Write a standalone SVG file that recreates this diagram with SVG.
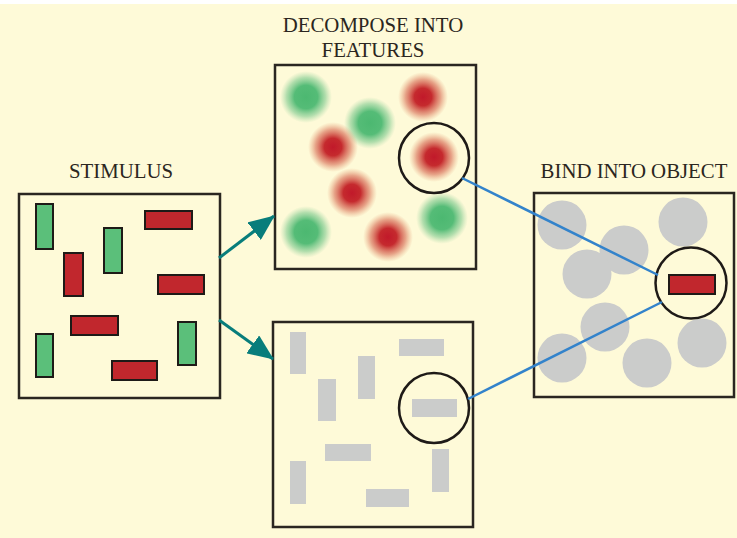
<svg xmlns="http://www.w3.org/2000/svg" width="737" height="538" viewBox="0 0 737 538">
<defs>
<style>
.bg{fill:#fefad8}
.box{fill:none;stroke:#2a2620;stroke-width:2.5}
.title{font-family:"Liberation Serif",serif;font-size:20.8px;fill:#2b2620;text-anchor:middle}
.g{fill:#5bbf7a;stroke:#1e1a17;stroke-width:2}
.r{fill:#c1272d;stroke:#1e1a17;stroke-width:2}
.gray{fill:#cbcccb}
.ring{fill:none;stroke:#1e1a17;stroke-width:2.5}
.blue{stroke:#3383cb;stroke-width:2.5;fill:none}
.teal{stroke:#087d7b;stroke-width:3;fill:none}
</style>
<radialGradient id="rg">
<stop offset="0" stop-color="#c1192a" stop-opacity="1"/>
<stop offset="0.35" stop-color="#c52a2e" stop-opacity="1"/>
<stop offset="0.7" stop-color="#d35a45" stop-opacity="0.55"/>
<stop offset="1" stop-color="#e08a60" stop-opacity="0"/>
</radialGradient>
<radialGradient id="gg">
<stop offset="0" stop-color="#4cb871" stop-opacity="1"/>
<stop offset="0.45" stop-color="#55bc77" stop-opacity="1"/>
<stop offset="0.75" stop-color="#74c78a" stop-opacity="0.55"/>
<stop offset="1" stop-color="#9ad3a0" stop-opacity="0"/>
</radialGradient>
<marker id="ah" viewBox="0 0 26 22" refX="25" refY="11" markerWidth="26" markerHeight="22" markerUnits="userSpaceOnUse" orient="auto">
<path d="M0,0 L26,11 L0,22 Z" fill="#087d7b"/>
</marker>
</defs>
<rect class="bg" x="0" y="0" width="737" height="538"/>
<rect x="0" y="0" width="737" height="4" fill="#ffffff"/>

<g id="stimulus">
<text class="title" x="121" y="178">STIMULUS</text>
<rect class="box" x="19" y="194" width="201" height="204"/>
<rect class="g" x="36" y="204" width="17" height="45"/>
<rect class="g" x="104" y="228" width="18" height="45"/>
<rect class="r" x="64" y="253" width="19" height="43"/>
<rect class="r" x="145" y="211" width="47" height="18"/>
<rect class="r" x="158" y="275" width="46" height="19"/>
<rect class="r" x="71" y="316" width="47" height="19"/>
<rect class="g" x="36" y="334" width="17" height="43"/>
<rect class="g" x="178" y="322" width="18" height="43"/>
<rect class="r" x="112" y="361" width="45" height="19"/>
</g>

<g id="features-color">
<text class="title" x="373" y="32">DECOMPOSE INTO</text>
<text class="title" x="373" y="57">FEATURES</text>
<rect class="box" x="275" y="65" width="201" height="204"/>
<circle cx="306" cy="97" r="26" fill="url(#gg)"/>
<circle cx="423" cy="97" r="25" fill="url(#rg)"/>
<circle cx="370" cy="123" r="26" fill="url(#gg)"/>
<circle cx="333" cy="147" r="25" fill="url(#rg)"/>
<circle cx="434" cy="157" r="25" fill="url(#rg)"/>
<circle cx="352" cy="193" r="25" fill="url(#rg)"/>
<circle cx="306" cy="232" r="26" fill="url(#gg)"/>
<circle cx="388" cy="237" r="25" fill="url(#rg)"/>
<circle cx="442" cy="218" r="26" fill="url(#gg)"/>
<circle class="ring" cx="434" cy="158" r="35"/>
</g>

<g id="features-shape">
<rect class="box" x="273" y="322" width="200" height="205"/>
<rect class="gray" x="290" y="332" width="16" height="42"/>
<rect class="gray" x="318" y="379" width="18" height="42"/>
<rect class="gray" x="358" y="356" width="17" height="43"/>
<rect class="gray" x="399" y="339" width="45" height="17"/>
<rect class="gray" x="412" y="399" width="45" height="18"/>
<rect class="gray" x="325" y="444" width="46" height="17"/>
<rect class="gray" x="290" y="461" width="16" height="43"/>
<rect class="gray" x="366" y="489" width="43" height="18"/>
<rect class="gray" x="432" y="449" width="17" height="43"/>
<circle class="ring" cx="434" cy="408" r="35"/>
</g>

<g id="object">
<text class="title" x="634" y="178">BIND INTO OBJECT</text>
<rect class="box" x="534" y="193" width="200" height="204"/>
<circle class="gray" cx="562" cy="225" r="24.5"/>
<circle class="gray" cx="683" cy="222" r="24.5"/>
<circle class="gray" cx="624" cy="250" r="24.5"/>
<circle class="gray" cx="587" cy="274" r="24.5"/>
<circle class="gray" cx="605" cy="327" r="24.5"/>
<circle class="gray" cx="562" cy="358" r="24.5"/>
<circle class="gray" cx="647" cy="363" r="24.5"/>
<circle class="gray" cx="702" cy="343" r="24.5"/>
<circle cx="691" cy="283" r="35.5" fill="#fefad8" stroke="#1e1a17" stroke-width="2.5"/>
<rect class="r" x="669" y="275" width="46" height="19"/>
</g>

<g id="connectors">
<line class="teal" x1="219" y1="258" x2="274" y2="216" marker-end="url(#ah)"/>
<line class="teal" x1="219" y1="320" x2="273" y2="359" marker-end="url(#ah)"/>
<line class="blue" x1="462" y1="178" x2="658" y2="275"/>
<line class="blue" x1="468" y1="399" x2="662" y2="302"/>
</g>
</svg>
